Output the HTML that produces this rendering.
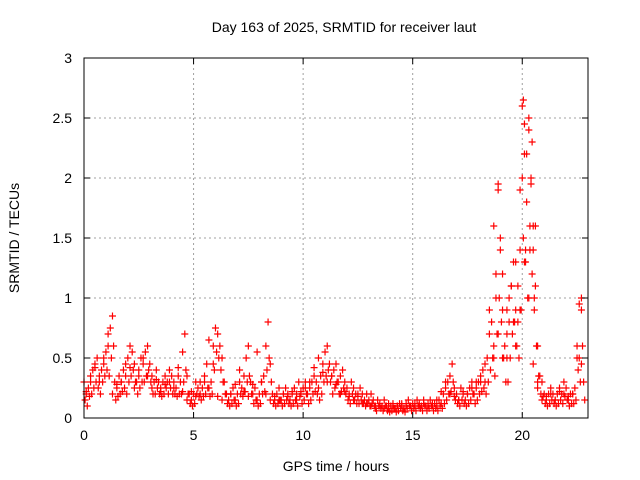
<!DOCTYPE html>
<html><head><meta charset="utf-8"><style>
body{margin:0;background:#fff;}
svg{display:block;font-family:"Liberation Sans",sans-serif;}
</style></head><body>
<svg id="chart" width="640" height="480">
<text x="344" y="32" font-size="14" text-anchor="middle">Day 163 of 2025, SRMTID for receiver laut</text>
<text x="336" y="471" font-size="14" text-anchor="middle">GPS time / hours</text>
<text transform="translate(19,238) rotate(-90)" font-size="14" text-anchor="middle">SRMTID / TECUs</text>
<g id="grid"></g><g id="marks"></g><g id="axes"></g>
</svg>
<script>
const xTicks=[0,5,10,15,20];
const yTicks=[0,0.5,1,1.5,2,2.5,3];
const yTickLabels=["0","0.5","1","1.5","2","2.5","3"];
const tStart=0, tStep=0.1;
const seriesA=[0.3,0.2,0.25,0.35,0.4,0.45,0.5,0.35,0.4,0.5,0.55,0.6,0.75,0.85,0.3,0.25,0.35,0.3,0.4,0.35,0.5,0.6,0.55,0.45,0.3,0.35,0.5,0.45,0.55,0.6,0.45,0.35,0.3,0.4,0.3,0.25,0.3,0.35,0.3,0.4,0.35,0.3,0.25,0.35,0.3,0.55,0.7,0.35,0.2,0.15,0.2,0.3,0.25,0.2,0.25,0.3,0.45,0.25,0.3,0.6,0.75,0.7,0.6,0.5,0.3,0.2,0.15,0.2,0.25,0.15,0.2,0.3,0.25,0.35,0.5,0.6,0.3,0.2,0.25,0.15,0.2,0.3,0.35,0.6,0.8,0.45,0.2,0.15,0.2,0.25,0.15,0.2,0.25,0.2,0.15,0.2,0.25,0.15,0.3,0.2,0.25,0.3,0.2,0.25,0.3,0.35,0.3,0.25,0.35,0.45,0.55,0.6,0.45,0.35,0.4,0.45,0.3,0.35,0.4,0.3,0.25,0.2,0.3,0.25,0.2,0.2,0.25,0.2,0.15,0.2,0.15,0.2,0.15,0.1,0.15,0.12,0.1,0.15,0.1,0.08,0.1,0.12,0.08,0.1,0.12,0.1,0.08,0.12,0.15,0.1,0.12,0.1,0.15,0.12,0.1,0.15,0.1,0.12,0.15,0.1,0.12,0.1,0.15,0.12,0.2,0.25,0.3,0.35,0.45,0.25,0.2,0.15,0.25,0.2,0.15,0.2,0.25,0.3,0.2,0.25,0.3,0.35,0.4,0.3,0.5,0.7,0.8,0.6,1.2,1.9,1.4,0.9,0.6,0.5,0.8,1.1,1.3,0.9,0.8,1.4,2.6,2.2,1.8,2.4,2.0,1.6,1.1,0.6,0.35,0.3,0.2,0.15,0.2,0.25,0.2,0.15,0.2,0.25,0.2,0.3,0.25,0.15,0.2,0.2,0.25,0.6,0.5,0.9,0.3];
const seriesB=[0.15,0.1,0.18,0.2,0.25,0.3,0.25,0.2,0.3,0.35,0.4,0.35,0.5,0.6,0.15,0.18,0.2,0.22,0.25,0.2,0.3,0.35,0.4,0.3,0.2,0.25,0.3,0.3,0.35,0.4,0.3,0.2,0.2,0.25,0.2,0.18,0.2,0.25,0.2,0.25,0.2,0.2,0.18,0.2,0.2,0.3,0.4,0.2,0.12,0.1,0.12,0.2,0.18,0.15,0.18,0.2,0.25,0.18,0.2,0.4,0.55,0.5,0.4,0.3,0.2,0.12,0.1,0.12,0.15,0.1,0.12,0.2,0.18,0.22,0.3,0.35,0.2,0.12,0.15,0.1,0.12,0.2,0.22,0.4,0.5,0.3,0.12,0.1,0.12,0.15,0.1,0.12,0.15,0.12,0.1,0.12,0.15,0.1,0.18,0.12,0.15,0.2,0.12,0.15,0.2,0.22,0.2,0.15,0.2,0.3,0.35,0.4,0.3,0.2,0.25,0.3,0.2,0.22,0.25,0.2,0.15,0.12,0.2,0.15,0.12,0.12,0.15,0.12,0.1,0.12,0.1,0.12,0.1,0.06,0.1,0.08,0.06,0.1,0.06,0.05,0.06,0.08,0.05,0.06,0.08,0.06,0.05,0.08,0.1,0.06,0.08,0.06,0.1,0.08,0.06,0.1,0.06,0.08,0.1,0.06,0.08,0.06,0.1,0.08,0.12,0.15,0.2,0.22,0.3,0.15,0.12,0.1,0.15,0.12,0.1,0.12,0.15,0.2,0.12,0.15,0.2,0.22,0.25,0.2,0.3,0.4,0.5,0.35,0.7,1.0,0.8,0.5,0.3,0.3,0.5,0.7,0.8,0.6,0.5,0.9,1.5,1.3,1.0,1.4,1.2,0.9,0.6,0.35,0.2,0.18,0.12,0.1,0.12,0.15,0.12,0.1,0.12,0.15,0.12,0.18,0.15,0.1,0.12,0.12,0.15,0.4,0.3,0.6,0.15];
const cStep=0.2;
const seriesC=[0.22,0.3,0.42,0.3,0.45,0.7,0.2,0.28,0.3,0.45,0.42,0.25,0.4,0.5,0.35,0.25,0.32,0.22,0.28,0.3,0.25,0.42,0.22,0.15,0.22,0.18,0.3,0.35,0.65,0.45,0.18,0.15,0.2,0.2,0.28,0.4,0.22,0.18,0.28,0.55,0.3,0.2,0.15,0.18,0.15,0.2,0.18,0.22,0.2,0.22,0.25,0.3,0.42,0.5,0.38,0.3,0.35,0.28,0.2,0.22,0.18,0.15,0.18,0.12,0.12,0.1,0.08,0.1,0.08,0.12,0.1,0.1,0.12,0.1,0.1,0.12,0.1,0.12,0.1,0.12,0.15,0.22,0.3,0.2,0.18,0.15,0.22,0.2,0.25,0.3,0.3,0.45,0.9,1.6,0.7,0.5,0.9,1.1,1.3,1.9,1.3,1.0,0.45,0.25,0.15,0.18,0.2,0.15,0.22,0.2,0.18,0.2,0.5,0.45];
const spikeTimes=[18.7,18.8,18.9,19.0,19.1,19.3,19.4,19.6,19.7,19.8,19.9,20.0,20.05,20.1,20.15,20.2,20.3,20.35,20.4,20.45,20.5,20.55,20.6,20.7,22.6,22.7];
const spikeValues=[0.5,1.0,1.95,1.5,1.2,0.7,1.0,0.8,0.6,1.1,0.9,2.0,2.65,2.45,1.4,2.2,2.5,1.6,1.95,2.3,1.4,1.0,1.6,0.3,0.95,1.0];
const NS="http://www.w3.org/2000/svg";
const L=84,R=588,T=58,B=418;
const xS=v=>L+v*(R-L)/23;
const yS=v=>B-v*(B-T)/3;
function mk(tag,attrs,parent){const e=document.createElementNS(NS,tag);for(const k in attrs)e.setAttribute(k,attrs[k]);parent.appendChild(e);return e;}
const grid=document.getElementById('grid'),axes=document.getElementById('axes'),marks=document.getElementById('marks');
xTicks.forEach(t=>{
  const x=xS(t);
  if(t>0){const g=mk('line',{x1:x,x2:x,y1:T,y2:B,stroke:'#a0a0a0','stroke-dasharray':'2,3'},grid);
  
  }
  mk('line',{x1:x,x2:x,y1:B,y2:B-6,stroke:'#000'},axes);
  mk('line',{x1:x,x2:x,y1:T,y2:T+6,stroke:'#000'},axes);
  const lb=mk('text',{x:x,y:B+22,'font-size':14,'text-anchor':'middle'},axes);lb.textContent=t;
  
  
});
yTicks.forEach((t,i)=>{
  const y=yS(t);
  if(t>0&&t<3){const g=mk('line',{x1:L,x2:R,y1:y,y2:y,stroke:'#a0a0a0','stroke-dasharray':'2,3'},grid);
  
  }
  mk('line',{x1:L,x2:L+6,y1:y,y2:y,stroke:'#000'},axes);
  mk('line',{x1:R,x2:R-6,y1:y,y2:y,stroke:'#000'},axes);
  const lb=mk('text',{x:L-12,y:y+5,'font-size':14,'text-anchor':'end'},axes);lb.textContent=yTickLabels[i];
  
  
});
const frame=mk('rect',{x:L,y:T,width:R-L,height:B-T,fill:'none',stroke:'#000'},axes);


function plus(t,v){
  const x=xS(t),y=yS(v);
  const p=mk('path',{d:`M${x-3.5} ${y}h7M${x} ${y-3.5}v7`,stroke:'#ff0000','stroke-width':1.2,fill:'none'},marks);
  
  
}
seriesA.forEach((v,i)=>plus(tStart+i*tStep,v));
seriesB.forEach((v,i)=>plus(tStart+i*tStep+0.05,v));
seriesC.forEach((v,i)=>plus(tStart+i*cStep+0.1,v));
spikeTimes.forEach((t,i)=>plus(t,spikeValues[i]));
</script>
</body></html>
